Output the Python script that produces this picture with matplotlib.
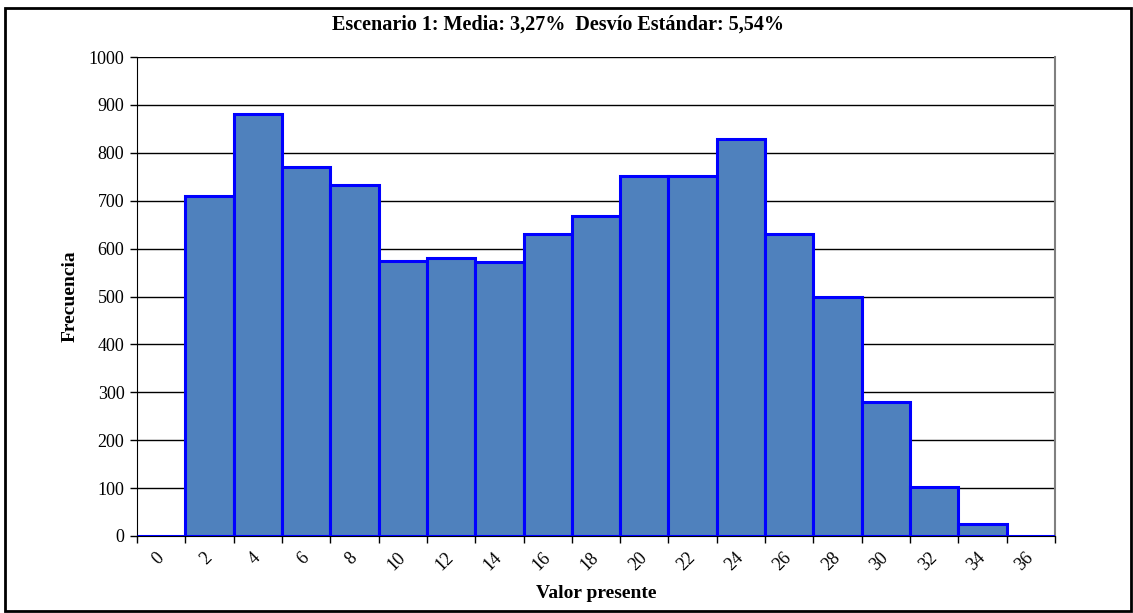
import numpy as np
import matplotlib
matplotlib.use('Agg')
import matplotlib.pyplot as plt
from matplotlib.patches import Rectangle

# histogram data (Excel category axis)
categorias = ['0', '2', '4', '6', '8', '10', '12', '14', '16', '18',
              '20', '22', '24', '26', '28', '30', '32', '34', '36']
frecuencia = [0, 710, 880, 770, 732, 575, 580, 572, 630, 668,
              752, 752, 828, 630, 498, 280, 103, 26, 0]
yticks = [0, 100, 200, 300, 400, 500, 600, 700, 800, 900, 1000]

plt.rcParams['font.family'] = ['Liberation Serif', 'DejaVu Serif']

W, H = 1133, 613
fig = plt.figure(figsize=(W / 100, H / 100), dpi=100)
ax = fig.add_axes([137 / W, 1 - 536 / H, (1055 - 137) / W, (536 - 57) / H])

x = np.arange(len(categorias))
ax.bar(x, frecuencia, width=1.0, color='#4F81BD', edgecolor='#0000FF',
       linewidth=2.2, zorder=3)

ax.set_xlim(-0.5, len(categorias) - 0.5)
ax.set_ylim(0, 1000)
ax.set_yticks(yticks)
ax.set_yticklabels([str(v) for v in yticks], fontsize=13)
ax.yaxis.grid(True, color='black', linewidth=1.0, zorder=0)

# boundary ticks (major) and centred labels (minor)
ax.set_xticks(np.arange(-0.5, len(categorias)))
ax.set_xticklabels([])
ax.set_xticks(x, minor=True)
ax.set_xticklabels(categorias, minor=True, rotation=45, ha='right',
                   va='center', rotation_mode='anchor', fontsize=13)
ax.tick_params(axis='x', which='major', direction='out', length=5, width=1)
ax.tick_params(axis='x', which='minor', length=0, pad=14)
ax.tick_params(axis='y', direction='out', length=5, width=1, pad=4)

ax.spines['left'].set_color('black')
ax.spines['bottom'].set_color('black')
ax.spines['top'].set_visible(False)
ax.spines['right'].set_color('#808080')
ax.spines['right'].set_linewidth(1.5)

ax.set_ylabel('Frecuencia', fontsize=14, fontweight='bold', labelpad=7)
ax.set_xlabel('Valor presente', fontsize=14, fontweight='bold', labelpad=8)

fig.text(558 / W, 1 - 25 / H, 'Escenario 1: Media: 3,27%  Desvío Estándar: 5,54%',
         ha='center', va='center', fontsize=14.5, fontweight='bold')

# outer chart border
fig.patches.append(Rectangle((5 / W, 1 - 611 / H), (1131 - 5) / W, (611 - 8) / H,
                             transform=fig.transFigure, fill=False,
                             edgecolor='black', linewidth=2))

fig.savefig('out.png', dpi=100)
